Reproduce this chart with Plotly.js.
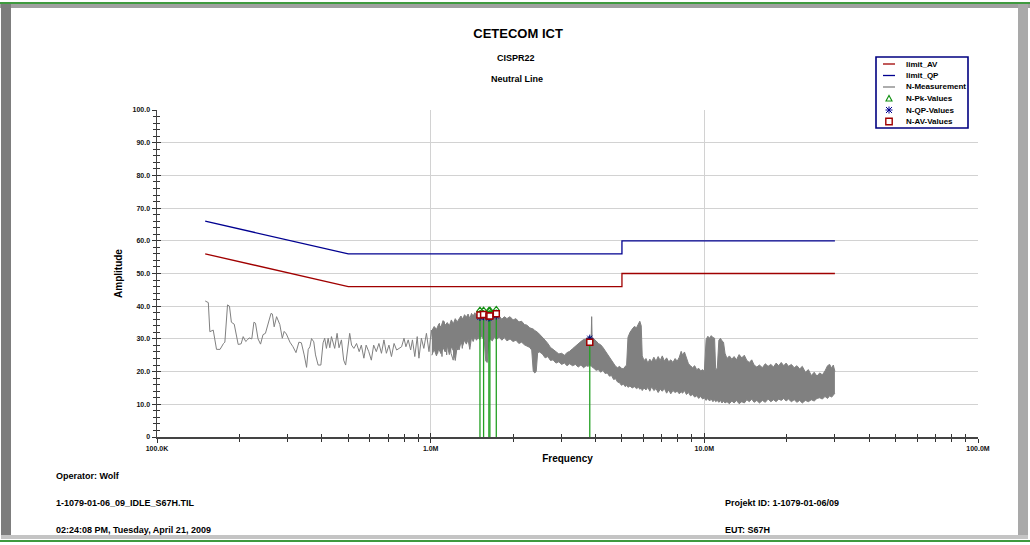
<!DOCTYPE html>
<html>
<head>
<meta charset="utf-8">
<script src="https://cdn.plot.ly/plotly-3.0.1.min.js"></script>
<style>
html,body{margin:0;padding:0;background:#fff;width:1030px;height:545px;overflow:hidden;}
#chart{position:absolute;left:0;top:0;width:1030px;height:545px;}
.fr{position:absolute;pointer-events:none;}
</style>
</head>
<body>
<div id="chart"></div>
<div class="fr" style="left:0;top:2px;width:1030px;height:2px;background:#3f9a3f;"></div>
<div class="fr" style="left:0;top:4px;width:1030px;height:4px;background:#a0a0a0;"></div>
<div class="fr" style="left:1px;top:4px;width:10px;height:534px;background:#7d7d7d;"></div>
<div class="fr" style="left:1018px;top:4px;width:10px;height:534px;background:#a9a9a9;"></div>
<div class="fr" style="left:1px;top:535px;width:1027px;height:4px;background:#c4c4c4;"></div>
<div class="fr" style="left:0;top:540px;width:1030px;height:2px;background:#3f9a3f;"></div>
<script>
// ---------- data (frequency in MHz, amplitude in dB) ----------
const limitF  = [0.15, 0.5, 5, 5, 30];
const limitAV = [56, 46, 46, 50, 50];
const limitQP = [66, 56, 56, 60, 60];

// low-frequency part of the measurement (single trace)
const measF = [0.150,0.154,0.156,0.1605,0.165,0.170,0.175,0.177,0.181,0.184,0.187,0.1915,0.198,0.203,0.2065,0.211,0.214,0.217,0.222,0.226,0.229,0.234,0.239,0.244,0.249,0.255,0.261,0.264,0.268,0.2735,0.281,0.287,0.2915,0.297,0.306,0.314,0.322,0.330,0.337,0.345,0.352,0.357,0.362,0.367,0.374,0.3795,0.388,0.397,0.4045,0.410,0.416,0.422,0.428,0.434,0.446,0.455,0.4625,0.472,0.481,0.489,0.499,0.506,0.514,0.524,0.536,0.548,0.558,0.570,0.581,0.594,0.607,0.619,0.633,0.647,0.661,0.675,0.689,0.704,0.719,0.735,0.751,0.767,0.783,0.799,0.812,0.828,0.845,0.858,0.875,0.893,0.906,0.925,0.944,0.965,0.986,1.006,1.025,1.042,1.061,1.076,1.100,1.121,1.144,1.162,1.187,1.209,1.228,1.252,1.277,1.305,1.336];
const measDb = [41.6,41.1,32.2,32.7,26.8,26.8,28.6,29.0,40.4,40.0,35.1,34.5,28.3,28.5,30.7,29.2,29.7,30.3,30.0,35.1,34.8,30.0,28.4,31.3,31.7,34.8,37.8,37.6,33.7,36.8,34.4,30.2,32.3,31.5,29.0,27.6,25.8,29.0,28.8,25.1,21.3,26.8,27.6,30.1,29.1,25.1,22.0,22.0,28.8,30.2,27.1,30.2,27.3,30.7,27.1,31.7,27.3,29.7,23.5,22.0,28.6,31.7,28.1,27.1,28.6,26.1,28.1,24.1,28.1,26.1,23.5,28.1,26.1,28.6,25.6,29.7,25.6,28.1,24.6,28.6,26.6,27.1,27.6,30.2,27.6,29.7,26.6,29.7,24.6,30.7,24.1,30.2,27.1,31.7,26.1,32.7,26.6,33.2,25.6,34.8,24.6,35.3,25.1,34.3,25.6,23.5,35.3,26.6,34.8,27.1,36.3];

// dense part of the measurement: upper and lower envelope of the noise band
const bandF = [1.010,1.030,1.050,1.070,1.090,1.110,1.130,1.150,1.170,1.190,1.210,1.230,1.250,1.270,1.290,1.310,1.330,1.350,1.370,1.390,
  1.410,1.430,1.450,1.470,1.490,1.510,1.530,1.550,1.570,1.590,1.610,1.630,1.650,1.680,1.710,1.740,1.780,1.820,1.860,1.900,
  1.950,2.000,2.050,2.100,2.150,2.200,2.250,2.300,2.340,2.370,2.400,2.430,2.460,2.500,2.560,2.620,2.680,2.740,2.800,2.870,
  2.940,3.010,3.080,3.150,3.220,3.300,3.380,3.460,3.540,3.620,3.700,3.760,3.814,3.860,3.875,3.890,3.950,4.020,4.100,4.180,
  4.260,4.340,4.420,4.500,4.580,4.660,4.740,4.820,4.900,4.980,5.060,5.140,5.200,5.260,5.350,5.450,5.550,5.650,5.750,5.810,
  5.880,5.930,6.020,6.120,6.220,6.320,6.420,6.540,6.660,6.780,6.900,7.020,7.150,7.280,7.410,7.540,7.680,7.820,7.960,8.100,
  8.230,8.330,8.460,8.600,8.750,8.900,9.060,9.220,9.380,9.540,9.700,9.860,10.00,10.15,10.30,10.45,10.60,10.75,10.90,11.00,
  11.15,11.30,11.45,11.60,11.75,11.90,12.10,12.35,12.60,12.85,13.10,13.40,13.70,14.00,14.30,14.60,14.90,15.20,15.55,15.90,
  16.30,16.70,17.10,17.50,17.90,18.30,18.70,19.10,19.50,19.90,20.30,20.80,21.30,21.80,22.30,22.80,23.40,24.00,24.60,25.20,
  25.80,26.40,27.00,27.60,28.20,28.70,29.20,29.60,30.00];
const bandHi = [32.5,33.8,32.9,34.5,33.6,35.6,34.2,35.0,34.0,35.8,34.6,36.2,35.2,36.0,37.0,36.0,37.4,36.6,37.6,36.2,
  37.8,37.0,38.0,37.2,38.2,37.6,38.4,37.8,38.0,37.6,37.8,37.2,37.6,36.8,37.4,36.6,37.0,36.0,36.8,36.2,
  36.8,35.8,36.2,35.2,35.4,34.4,34.2,33.4,33.2,33.0,32.6,32.4,32.0,31.4,30.6,29.6,28.6,27.4,26.8,26.0,
  25.4,25.6,25.0,25.8,26.2,27.0,27.8,28.6,29.2,29.8,30.0,30.4,30.2,30.6,36.8,30.4,30.0,29.4,28.6,28.2,
  27.4,26.4,25.4,24.6,23.4,22.6,21.6,21.2,21.6,21.0,20.8,21.6,22.0,30.5,32.0,33.0,33.8,33.4,35.0,35.4,
  34.0,24.8,23.4,24.0,22.6,23.8,23.0,24.4,23.2,24.6,23.4,24.8,23.2,24.2,23.0,23.6,22.8,24.0,23.2,24.4,
  26.2,25.0,26.0,24.2,22.4,21.8,21.2,21.8,20.6,21.0,20.2,20.6,20.0,29.8,30.8,30.2,31.0,30.4,30.2,20.6,
  21.0,29.6,30.2,29.4,29.0,25.6,24.0,24.8,23.8,24.6,23.6,25.2,24.2,25.0,23.4,22.8,23.6,22.0,21.4,22.0,
  21.2,22.4,21.6,22.2,21.4,22.6,21.8,22.8,21.8,22.6,21.6,22.2,21.2,21.8,20.8,21.6,19.8,20.6,18.8,19.8,
  18.6,19.6,19.0,20.2,21.8,22.2,21.0,22.0,20.0];
const bandLo = [25.0,26.8,24.8,27.0,25.5,27.4,26.0,28.0,25.2,27.6,26.4,23.4,27.8,26.6,29.0,28.0,29.6,28.4,29.8,26.8,
  30.4,29.2,30.6,29.6,30.4,29.8,30.8,30.2,29.6,23.2,22.8,28.8,30.0,29.4,30.6,29.8,30.6,29.6,30.4,29.4,
  30.0,29.2,29.6,28.6,29.0,28.2,27.8,27.4,26.6,20.2,19.6,20.0,25.8,26.0,25.4,24.2,24.6,23.4,23.6,22.6,
  23.0,22.2,22.6,21.8,22.4,21.8,22.2,21.4,22.0,21.2,21.8,21.6,22.0,21.6,21.8,21.4,21.0,20.4,20.6,19.8,
  20.4,19.4,19.6,18.6,18.8,17.6,17.8,16.8,16.6,15.8,16.2,15.4,15.8,15.2,15.6,15.0,15.4,14.8,15.2,14.6,
  15.0,14.2,15.0,14.4,15.2,14.0,15.4,14.2,14.8,13.6,14.6,14.0,14.8,13.4,14.4,13.2,14.2,13.6,14.0,13.2,
  13.8,13.4,14.2,13.0,13.6,12.6,13.0,12.2,12.6,11.8,12.4,11.6,12.0,11.2,11.8,11.0,11.6,10.8,11.4,10.8,
  11.2,10.6,11.2,10.4,11.0,10.4,10.8,10.2,11.0,10.4,11.2,10.2,10.8,10.4,11.4,10.8,11.6,10.6,11.2,10.4,
  11.2,10.6,11.6,10.8,11.4,10.8,11.6,11.2,11.8,11.0,11.6,10.8,11.4,10.6,11.2,10.4,11.2,10.8,11.4,11.0,
  11.8,12.0,11.6,12.4,11.8,12.6,12.2,13.0,13.4];

// final measurement results
const peakF = [1.514, 1.561, 1.632, 1.646, 1.737, 3.814];
const pkVal = [38.8, 38.8, 38.7, 38.8, 39.0, 29.8];
const qpVal = [36.6, 36.8, 36.4, 36.6, 37.0, 30.2];
const avVal = [37.3, 37.5, 37.0, 37.0, 37.7, 29.0];

// axis tick labels
const xTickVals = [0.1, 1, 10, 100];
const xTickText = ['100.0K', '1.0M', '10.0M', '100.0M'];
const yTickVals = [0, 10, 20, 30, 40, 50, 60, 70, 80, 90, 100];
const yTickText = ['0', '10.0', '20.0', '30.0', '40.0', '50.0', '60.0', '70.0', '80.0', '90.0', '100.0'];

// ---------- build ----------
const FONT = 'Liberation Sans, Arial, Helvetica, sans-serif';
const GRAY = '#808080';
const minorX = [];
xTickVals.slice(0, 3).forEach(d => { for (let k = 2; k <= 9; k++) minorX.push(d * k); });
const minorY = [];
for (let v = 0; v < 100; v += 2) if (v % 10 !== 0) minorY.push(v);

const stemX = [], stemY = [];
peakF.forEach((f, i) => { stemX.push(f, f, null); stemY.push(0, pkVal[i], null); });

const traces = [
  {x: limitF, y: limitAV, mode: 'lines', line: {color: '#a00000', width: 1.3}, name: 'limit_AV', showlegend: false},
  {x: limitF, y: limitQP, mode: 'lines', line: {color: '#000090', width: 1.3}, name: 'limit_QP', showlegend: false},
  {x: measF, y: measDb, mode: 'lines', line: {color: GRAY, width: 1}, name: 'N-Measurement', showlegend: false},
  {x: bandF, y: bandHi, mode: 'lines', line: {color: GRAY, width: 1}, showlegend: false, hoverinfo: 'skip'},
  {x: bandF, y: bandLo, mode: 'lines', line: {color: GRAY, width: 1}, fill: 'tonexty', fillcolor: GRAY, showlegend: false, hoverinfo: 'skip'},
  {x: stemX, y: stemY, mode: 'lines', line: {color: '#22a022', width: 1.3}, showlegend: false, hoverinfo: 'skip'},
  {x: peakF, y: pkVal, mode: 'markers', marker: {symbol: 'triangle-up-open', size: 6, color: '#109010', line: {width: 1.2}}, name: 'N-Pk-Values', showlegend: false},
  {x: peakF, y: qpVal, mode: 'markers', marker: {symbol: 'asterisk-open', size: 6, color: '#000090', line: {width: 1, color: '#000090'}}, name: 'N-QP-Values', showlegend: false},
  {x: peakF, y: avVal, mode: 'markers', marker: {symbol: 'square', size: 6, color: '#ffffff', line: {width: 1.5, color: '#a00000'}}, name: 'N-AV-Values', showlegend: false},
  {x: [], y: [], xaxis: 'x2', yaxis: 'y2', showlegend: false}
];

// plot area geometry (pixels) for paper-coordinate placement of page texts
const L = 157, T = 110, W = 821, H = 327;
const px = v => (v - L) / W;
const py = v => (T + H - v) / H;

const legendRows = [
  {t: 'limit_AV', kind: 'line', c: '#a00000'},
  {t: 'limit_QP', kind: 'line', c: '#000090'},
  {t: 'N-Measurement', kind: 'line', c: GRAY},
  {t: 'N-Pk-Values', kind: 'tri', c: '#109010'},
  {t: 'N-QP-Values', kind: 'ast', c: '#000090'},
  {t: 'N-AV-Values', kind: 'sq', c: '#a00000'}
];
const shapes = [{type: 'rect', xref: 'paper', yref: 'paper', x0: px(876), x1: px(968), y0: py(128), y1: py(57),
  line: {color: '#000080', width: 1.6}, fillcolor: '#ffffff', layer: 'above'}];
const annotations = [];
legendRows.forEach((r, i) => {
  const yy = py(64 + i * 11.5);
  if (r.kind === 'line') {
    shapes.push({type: 'line', xref: 'paper', yref: 'paper', x0: px(883), x1: px(895), y0: yy, y1: yy, line: {color: r.c, width: 1.3}, layer: 'above'});
  } else {
    const base = {xref: 'paper', yref: 'paper', xsizemode: 'pixel', ysizemode: 'pixel', xanchor: px(889), yanchor: yy, layer: 'above'};
    if (r.kind === 'tri') shapes.push(Object.assign({type: 'path', path: 'M-3,-2.5 L3,-2.5 L0,3 Z', line: {color: r.c, width: 1.1}}, base));
    if (r.kind === 'ast') shapes.push(Object.assign({type: 'path', path: 'M-3,-3 L3,3 M-3,3 L3,-3 M0,-3.5 L0,3.5 M-3.5,0 L3.5,0', line: {color: r.c, width: 1}}, base));
    if (r.kind === 'sq') shapes.push(Object.assign({type: 'rect', x0: -3.2, x1: 3.2, y0: -3.2, y1: 3.2, line: {color: r.c, width: 1.4}, fillcolor: '#ffffff'}, base));
  }
  annotations.push({xref: 'paper', yref: 'paper', x: px(904), y: yy, xanchor: 'left', yanchor: 'middle', showarrow: false,
    text: r.t, font: {family: FONT, size: 8, weight: 'bold', color: '#000'}});
});

const txt = (t, x, y, size, anchor) => ({xref: 'paper', yref: 'paper', x: px(x), y: py(y), xanchor: anchor || 'left', yanchor: 'middle',
  showarrow: false, text: t, font: {family: FONT, size: size, weight: 'bold', color: '#000'}});
annotations.push(txt('CISPR22', 516, 58, 9, 'center'));
annotations.push(txt('Neutral Line', 517, 79, 9, 'center'));
annotations.push(txt('Operator: Wolf', 54, 476, 9));
annotations.push(txt('1-1079-01-06_09_IDLE_S67H.TIL', 54, 503, 9));
annotations.push(txt('02:24:08 PM, Tuesday, April 21, 2009', 54, 530, 9));
annotations.push(txt('Projekt ID: 1-1079-01-06/09', 723, 503, 9));
annotations.push(txt('EUT: S67H', 723, 530, 9));

const tickFont = {family: FONT, size: 7, weight: 'bold', color: '#111'};
const layout = {
  width: 1030, height: 545,
  margin: {l: L, r: 1030 - L - W, t: T, b: 545 - T - H, pad: 0},
  paper_bgcolor: '#ffffff', plot_bgcolor: '#ffffff',
  font: {family: FONT, color: '#000'},
  showlegend: false,
  title: {text: 'CETECOM ICT', font: {family: FONT, size: 13, weight: 'bold', color: '#000'},
    xref: 'container', yref: 'container', x: 0.503, y: 1 - 33 / 545, xanchor: 'center', yanchor: 'middle'},
  xaxis: {type: 'log', range: [-1, 2], autorange: false, tickmode: 'array', tickvals: xTickVals, ticktext: xTickText,
    ticks: 'outside', ticklen: 4, tickwidth: 1, tickcolor: '#333',
    minor: {tickmode: 'array', tickvals: minorX, ticks: 'outside', ticklen: 3, tickcolor: '#333', showgrid: false},
    showline: true, linecolor: '#444', linewidth: 1.5, showgrid: true, gridcolor: '#d2d2d2', gridwidth: 1, zeroline: false,
    tickfont: tickFont,
    title: {text: 'Frequency', font: {family: FONT, size: 10, weight: 'bold', color: '#000'}, standoff: 4}},
  yaxis: {range: [0, 100], autorange: false, tickmode: 'array', tickvals: yTickVals, ticktext: yTickText,
    ticks: 'outside', ticklen: 4, tickwidth: 1, tickcolor: '#333',
    minor: {tickmode: 'array', tickvals: minorY, ticks: 'outside', ticklen: 3, tickcolor: '#333', showgrid: false},
    showline: true, linecolor: '#444', linewidth: 1.5, showgrid: true, gridcolor: '#d2d2d2', gridwidth: 1, zeroline: false,
    tickfont: tickFont,
    title: {text: 'Amplitude', font: {family: FONT, size: 10, weight: 'bold', color: '#000'}, standoff: 8}},
  xaxis2: {type: 'log', range: [-1, 2], autorange: false, overlaying: 'x', anchor: 'y', side: 'bottom',
    tickmode: 'array', tickvals: xTickVals, showticklabels: false, ticks: 'inside', ticklen: 4, tickcolor: '#333',
    minor: {tickmode: 'array', tickvals: minorX, ticks: 'inside', ticklen: 3, tickcolor: '#333', showgrid: false},
    showline: false, showgrid: false, zeroline: false},
  yaxis2: {range: [0, 100], autorange: false, overlaying: 'y', anchor: 'x', side: 'left',
    tickmode: 'array', tickvals: yTickVals, showticklabels: false, ticks: 'inside', ticklen: 4, tickcolor: '#333',
    minor: {tickmode: 'array', tickvals: minorY, ticks: 'inside', ticklen: 3, tickcolor: '#333', showgrid: false},
    showline: false, showgrid: false, zeroline: false},
  shapes: shapes,
  annotations: annotations
};

Plotly.newPlot('chart', traces, layout, {staticPlot: true, displayModeBar: false});
</script>
</body>
</html>
